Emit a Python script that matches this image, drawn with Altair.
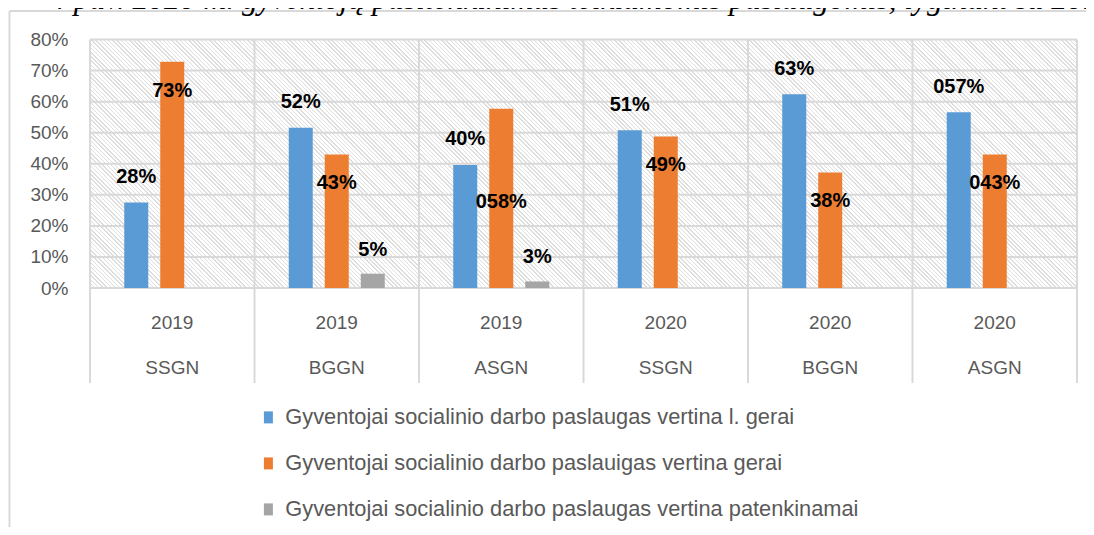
import altair as alt
import pandas as pd

# ---------------- data ----------------
categories = ["2019 SSGN", "2019 BGGN", "2019 ASGN", "2020 SSGN", "2020 BGGN", "2020 ASGN"]
series = [
    "Gyventojai socialinio darbo paslaugas vertina l. gerai",
    "Gyventojai socialinio darbo paslauigas vertina gerai",
    "Gyventojai socialinio darbo paslaugas vertina patenkinamai",
]
colors = ["#5B9BD5", "#ED7D31", "#A5A5A5"]

very_good = [27.5, 51.6, 39.6, 50.8, 62.4, 56.6]
good = [72.8, 43.0, 57.7, 48.8, 37.2, 43.0]
satisfactory = [0, 4.6, 2.1, 0, 0, 0]

very_good_labels = ["28%", "52%", "40%", "51%", "63%", "057%"]
good_labels = ["73%", "43%", "058%", "49%", "38%", "043%"]
satisfactory_labels = ["", "5%", "3%", "", "", ""]
# the one label that was dragged lower inside its bar
good_label_moved = [False, False, True, False, False, False]

y_ticks = [0, 10, 20, 30, 40, 50, 60, 70, 80]
title_text = "4 pav. 2020 m. gyventojų pasitenkinimas teikiamomis paslaugomis, lyginant su 2019 m."

# ---------------- tables ----------------
rows = []
for vals, labs, s in [(very_good, very_good_labels, series[0]),
                      (good, good_labels, series[1]),
                      (satisfactory, satisfactory_labels, series[2])]:
    for i, c in enumerate(categories):
        rows.append({"cat": c, "series": s, "value": vals[i], "label": labs[i],
                     "moved": good_label_moved[i] if s == series[1] else False})
df = pd.DataFrame(rows)
cats_df = pd.DataFrame({"cat": categories})
ticks_df = pd.DataFrame({"t": y_ticks})
one = pd.DataFrame({"t": [title_text]})

W, H = 987, 248.5
GRID = "#d9d9d9"
AXIS_TXT = "#595959"
FONT = "Liberation Sans"

# hatch pattern for the plot background (style only), as a striped gradient
bw, bh = W / len(categories), H
k = (bw + bh) / (bw ** 2 + bh ** 2)
period = 4.2
n_stripes = int(round((bw + bh) / period))
lw = 0.34
HATCH = "#dedede"
stops = []
for i in range(n_stripes):
    a = i / n_stripes
    b = (i + lw) / n_stripes
    e = (i + 1) / n_stripes
    stops += [alt.GradientStop(offset=a, color=HATCH),
              alt.GradientStop(offset=b, color=HATCH),
              alt.GradientStop(offset=b, color="#ffffff"),
              alt.GradientStop(offset=e, color="#ffffff")]
hatch = alt.LinearGradient(gradient="linear", stops=stops,
                           x1=0, y1=1, x2=k * bw, y2=1 - k * bh)

xenc = alt.X("cat:N", sort=categories, title=None,
             scale=alt.Scale(paddingInner=0, paddingOuter=0))
xoff = alt.XOffset("series:N", sort=series,
                   scale=alt.Scale(paddingInner=1 / 3, paddingOuter=0.951))
yenc = alt.Y("value:Q", title=None, scale=alt.Scale(domain=[0, 80], nice=False))

background = alt.Chart(cats_df).mark_rect(fill=hatch).encode(
    x=xenc, y=alt.datum(0), y2=alt.datum(80)
)

hgrid = alt.Chart(ticks_df).mark_rule(color=GRID, strokeWidth=2).encode(
    y=alt.Y("t:Q", title=None)
)
vgrid = alt.Chart(cats_df).mark_rule(color=GRID, strokeWidth=2).encode(
    x=alt.X("cat:N", sort=categories, bandPosition=0, title=None),
    y=alt.value(0), y2=alt.value(H + 95),
)
right_edge = alt.Chart(cats_df.head(1)).mark_rule(color=GRID, strokeWidth=2).encode(
    x=alt.value(W), y=alt.value(0), y2=alt.value(H + 95)
)
frame_left = alt.Chart(cats_df.head(1)).mark_rule(color=GRID, strokeWidth=2).encode(
    x=alt.value(-80.5), y=alt.value(-28.5), y2=alt.value(H + 400)
)
frame_top = alt.Chart(cats_df.head(1)).mark_rule(color=GRID, strokeWidth=2).encode(
    x=alt.value(-80.5), x2=alt.value(W + 40), y=alt.value(-28.5)
)

bars = alt.Chart(df).mark_bar().encode(
    x=xenc, xOffset=xoff, y=yenc,
    color=alt.Color("series:N", sort=series,
                    scale=alt.Scale(domain=series, range=colors),
                    legend=alt.Legend(
                        title=None, orient="none", legendX=167.5, legendY=367,
                        direction="vertical",
                        symbolType="M-0.75,-1H0.75V1H-0.75Z",
                        symbolSize=144, symbolStrokeWidth=0,
                        labelFont=FONT, labelFontSize=21.8, labelColor=AXIS_TXT,
                        labelLimit=0, labelOffset=6, rowPadding=23, padding=0)),
)

def labels(sel, dy):
    return alt.Chart(df).transform_filter(sel).mark_text(
        dy=dy, font=FONT, fontSize=20, fontWeight="bold", color="#000000",
        baseline="middle", align="center"
    ).encode(x=xenc, xOffset=xoff, y=yenc, text="label:N")

lab_blue = labels(alt.datum.series == series[0], -25.5)
lab_orange = labels((alt.datum.series == series[1]) & (~alt.datum.moved), 29)
lab_orange_moved = labels((alt.datum.series == series[1]) & (alt.datum.moved), 93)
lab_gray = labels((alt.datum.series == series[2]) & (alt.datum.label != ""), -24)

title = alt.Chart(one).mark_text(
    align="left", baseline="alphabetic", font="Liberation Serif",
    fontStyle="italic", fontSize=31.5, color="#000000"
).encode(x=alt.value(-40), y=alt.value(-30.5), text="t:N")

chart = alt.layer(
    background, hgrid, vgrid, right_edge, bars,
    lab_blue, lab_orange, lab_orange_moved, lab_gray,
    frame_left, frame_top, title
).properties(
    width=W, height=H,
    autosize=alt.AutoSizeParams(type="none"),
    padding={"left": 82, "top": 31.5, "right": 9, "bottom": 239},
).configure_view(stroke=None).configure_axis(
    grid=False, domain=False, ticks=False,
    labelFont=FONT, labelFontSize=19, labelColor=AXIS_TXT,
).configure_axisX(
    labelAngle=0, labelExpr="split(datum.label, ' ')", labelLineHeight=45,
    labelPadding=25, labelBaseline="top",
).configure_axisY(
    labelExpr="datum.value + '%'", tickCount=8, labelPadding=22,
)

chart.save("out.html", embed_options={"renderer": "svg", "actions": False})
